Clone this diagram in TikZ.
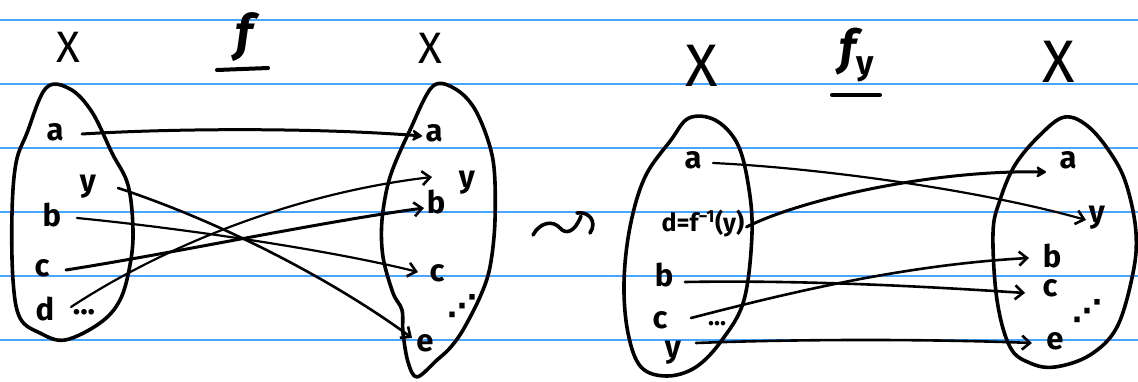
\documentclass[tikz,border=0pt]{standalone}
\usepackage{fontspec}
\setmainfont{Fira Sans}
\newfontfamily\dvsans{DejaVu Sans}
\usetikzlibrary{arrows.meta,calc}
\definecolor{rule}{RGB}{70,165,255}
\tikzset{
  lbl/.style={inner sep=0pt,font=\fontsize{31}{31}\selectfont\bfseries},
  small/.style={inner sep=0pt,font=\fontsize{25}{25}\selectfont\bfseries},
  dotsl/.style={inner sep=0pt,font=\fontsize{30}{30}\selectfont\dvsans\bfseries},
  setX/.style={inner sep=0pt,font=\fontsize{44}{44}\selectfont},
  bigX/.style={inner sep=0pt,font=\fontsize{60}{60}\selectfont},
  blob/.style={line width=3.6pt,line join=round},
  map/.style={line width=2.2pt,line cap=round,-{Straight Barb[length=8pt,width=14pt,line width=2.6pt]}},
  heavy/.style={line width=3pt,line cap=round,-{Stealth[length=12pt,width=14pt,round]}},
  ruled/.style={rule,line width=1.6pt}
}
\begin{document}
\begin{tikzpicture}[x=1pt,y=-1pt]
\useasboundingbox (0,0) rectangle (1138,381);
\fill[white] (0,0) rectangle (1138,381);
% ruled paper
\foreach \yy in {20,84,148,212,276,340} \draw[ruled] (0,\yy) -- (1138,\yy);

% ---------- left picture ----------
\node[setX] (X1) at (68,47) {X};
\node[setX] (X2) at (430,48) {X};
\node[inner sep=0pt,font=\fontsize{50}{50}\selectfont\bfseries\itshape] (F1) at (244,37) {f};
\draw[line width=4pt,line cap=round] (217,70) -- (268,68);

\draw[blob] plot[smooth cycle,tension=0.6] coordinates {(46,88) (70,89) (92,112) (112,153) (128,185) (133,230) (130,265) (120,300) (100,323) (65,340) (40,333) (20,318) (13,280) (12,213) (16,163) (27,133)};
\draw[blob] plot[smooth cycle,tension=0.55] coordinates {(433,86) (457,90) (477,113) (493,160) (495,220) (490,267) (480,297) (463,330) (450,348) (437,360) (417,377) (408,362) (403,333) (402,310) (393,293) (383,257) (382,220) (390,177) (410,130)};

\node[lbl] (La) at (55,132) {a};
\node[lbl] (Ly) at (88,187) {y};
\node[lbl] (Lb) at (52,215) {b};
\node[lbl] (Lc) at (42,268) {c};
\node[lbl] (Ld) at (45,309) {d};
\node[lbl] (Ldots) at (84,312) {...};

\node[lbl] (Ra) at (434,133) {a};
\node[lbl] (Ry) at (467,183) {y};
\node[lbl] (Rb) at (436,202) {b};
\node[lbl] (Rc) at (437,273) {c};
\node[lbl] (Re) at (425,343) {e};
\node[dotsl] (Rdots) at (462,306) {⋰};

\draw[heavy] ($(La.center)+(27,2)$) .. controls (180,128) and (320,128) .. ($(Ra.center)+(-12,3)$);
\draw[map,line width=2.6pt] ($(Ly.center)+(30,1)$) .. controls (230,225) and (340,285) .. ($(Re.center)+(-13,-5)$);
\draw[map] ($(Lb.center)+(25,3)$) .. controls (180,228) and (330,250) .. ($(Rc.center)+(-19,-1)$);
\draw[map,line width=3pt] ($(Lc.center)+(24,2)$) .. controls (180,252) and (320,222) .. ($(Rb.center)+(-12,6)$);
\draw[map] ($(Ld.center)+(26,-2)$) .. controls (150,255) and (280,195) .. ($(Ry.center)+(-35,-6)$);

% leads-to squiggle
\draw[line width=3.6pt,line cap=round] (533,235) .. controls (540,222) and (553,220) .. (560,228) .. controls (566,235) and (575,232) .. (581,216);
\draw[line width=3.6pt,line cap=round,line join=round] (577,213) .. controls (588,211) and (598,221) .. (590,233);

% ---------- right picture ----------
\node[bigX] (X3) at (702,66) {X};
\node[bigX] (X4) at (1059,62) {X};
\node[inner sep=0pt,font=\fontsize{48}{48}\selectfont\bfseries\itshape] (F2) at (857,55) {f\kern1pt\textsubscript{\upshape y}};
\draw[line width=4pt,line cap=round] (832,95) -- (880,95);

\draw[blob] plot[smooth cycle,tension=0.6] coordinates {(689,118) (715,120) (737,143) (748,183) (752,233) (744,300) (722,340) (696,367) (667,376) (641,367) (628,333) (624,283) (630,227) (645,177) (671,140)};
\draw[blob] plot[smooth cycle,tension=0.6] coordinates {(1065,117) (1090,128) (1115,160) (1128,190) (1136,233) (1133,273) (1117,327) (1090,355) (1055,367) (1030,363) (1010,347) (997,300) (993,233) (1000,200) (1015,165) (1040,135)};

\node[lbl] (Pa) at (693,160) {a};
\node[small] (Pd) at (703,224) {d=f\textsuperscript{−1}(y)};
\node[lbl] (Pb) at (664,275) {b};
\node[lbl] (Pc) at (660,320) {c};
\node[small] (Pdots) at (717,324) {...};
\node[lbl] (Py) at (673,353) {y};

\node[lbl] (Qa) at (1068,160) {a};
\node[lbl] (Qy) at (1097,218) {y};
\node[lbl] (Qb) at (1052,256) {b};
\node[lbl] (Qc) at (1050,288) {c};
\node[lbl] (Qe) at (1055,341) {e};
\node[dotsl] (Qdots) at (1087,311) {⋰};

\draw[map] ($(Pa.center)+(20,3)$) .. controls (820,168) and (980,190) .. ($(Qy.center)+(-11,2)$);
\draw[heavy] ($(Pd.east)+(2,3)$) .. controls (800,200) and (930,170) .. ($(Qa.center)+(-22,12)$);
\draw[map,line width=2.6pt] ($(Pb.center)+(21,7)$) .. controls (800,280) and (920,286) .. ($(Qc.center)+(-25,5)$);
\draw[map,line width=2.6pt] ($(Pc.center)+(31,-2)$) .. controls (780,295) and (900,265) .. ($(Qb.center)+(-23,2)$);
\draw[map,line width=2.6pt] ($(Py.center)+(23,-10)$) .. controls (800,339) and (930,339) .. ($(Qe.center)+(-23,2)$);
\end{tikzpicture}
\end{document}
